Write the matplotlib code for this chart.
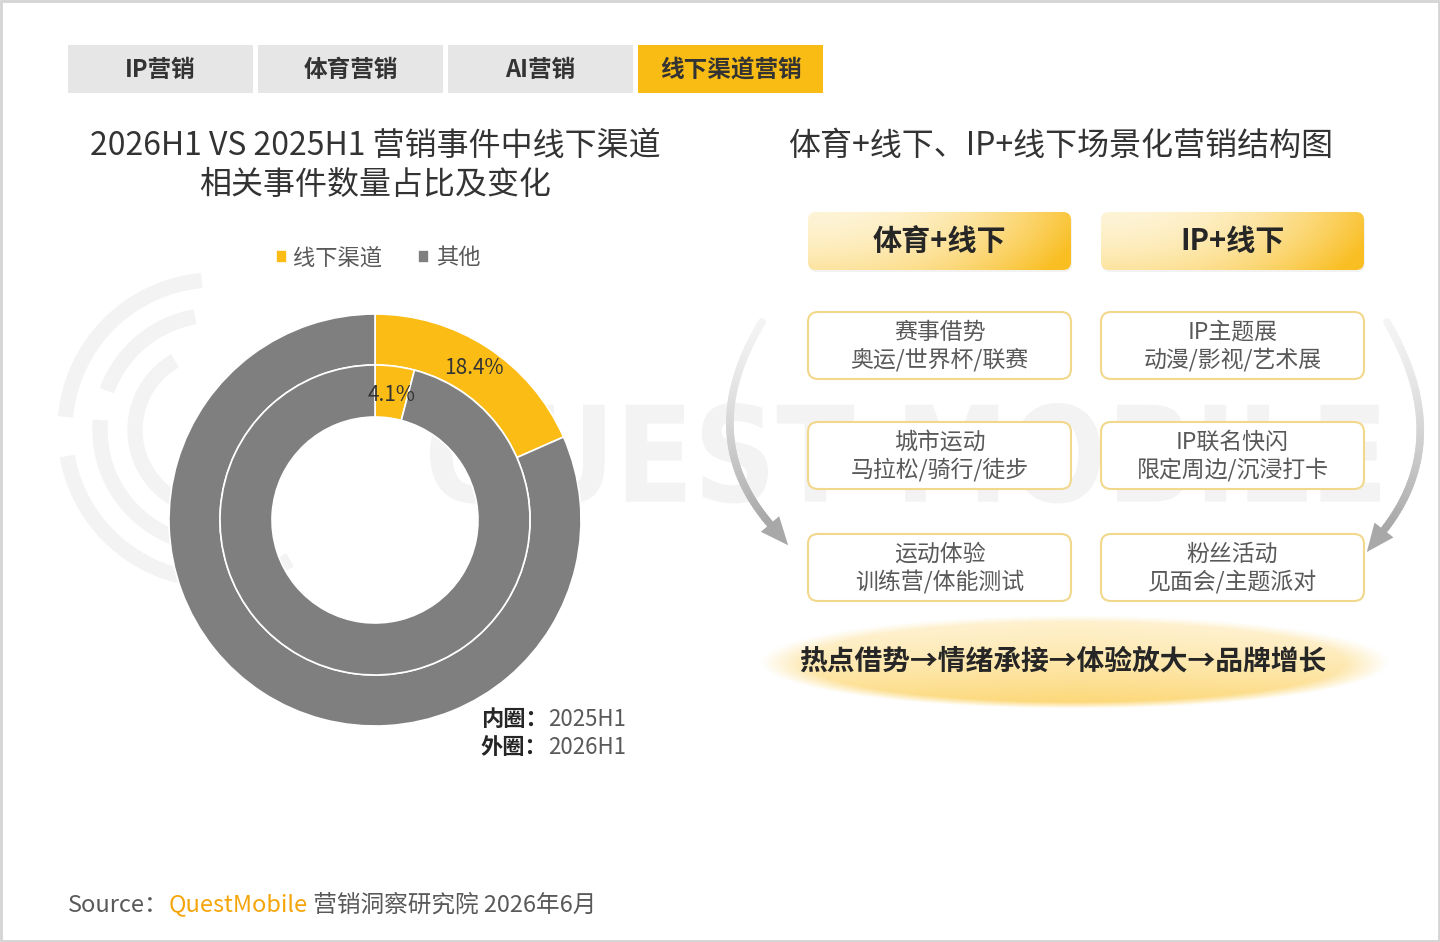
import numpy as np
import matplotlib
matplotlib.use('Agg')
import matplotlib.pyplot as plt
from matplotlib.patches import FancyBboxPatch, Rectangle, Polygon, Arc, PathPatch
from matplotlib.collections import LineCollection
from matplotlib.colors import to_rgb
from matplotlib.textpath import TextPath
from matplotlib.font_manager import FontProperties
from matplotlib.transforms import Affine2D

plt.rcParams['font.family'] = ['Noto Sans CJK SC', 'DejaVu Sans']

# ---- data ----
tabs = ['IP营销', '体育营销', 'AI营销', '线下渠道营销']
active_tab = 3

title_left = ['2026H1 VS 2025H1 营销事件中线下渠道', '相关事件数量占比及变化']
title_right = '体育+线下、IP+线下场景化营销结构图'

categories = ['线下渠道', '其他']
share_2026 = [18.4, 81.6]   # outer ring
share_2025 = [4.1, 95.9]    # inner ring
ring_colors = ['#FBBC15', '#7F7F7F']
ring_names = ['外圈', '内圈']
ring_periods = ['2026H1', '2025H1']

col_headers = ['体育+线下', 'IP+线下']
card_titles = [['赛事借势', '城市运动', '运动体验'],
               ['IP主题展', 'IP联名快闪', '粉丝活动']]
card_details = [['奥运/世界杯/联赛', '马拉松/骑行/徒步', '训练营/体能测试'],
                ['动漫/影视/艺术展', '限定周边/沉浸打卡', '见面会/主题派对']]
flow_steps = ['热点借势', '情绪承接', '体验放大', '品牌增长']

source_parts = ['Source：', 'QuestMobile', ' 营销洞察研究院 2026年6月']

W, H = 1440, 942
GRAY_TXT = '#595959'
DARK_TXT = '#333333'

fig = plt.figure(figsize=(W / 100, H / 100), dpi=100)
fig.patch.set_facecolor('white')

# full figure axes in pixel coords
bg = fig.add_axes([0, 0, 1, 1])
bg.set_xlim(0, W)
bg.set_ylim(H, 0)
bg.axis('off')


def reset_limits():
	bg.set_xlim(0, W)
	bg.set_ylim(H, 0)


def grad_box(x, y, w, h, c0, c1, r=8, z=2):
	box = FancyBboxPatch((x, y), w, h, boxstyle=f'round,pad=0,rounding_size={r}',
						 fc='none', ec='none', zorder=z)
	bg.add_patch(box)
	X, Y = np.meshgrid(np.linspace(0, 1, 200), np.linspace(0, 1, 60))
	t = np.clip(0.85 * X ** 2.2 + 0.3 * Y ** 1.5, 0, 1)
	img = (1 - t)[..., None] * np.array(to_rgb(c0)) + t[..., None] * np.array(to_rgb(c1))
	im = bg.imshow(img, extent=(x, x + w, y + h, y), aspect='auto', zorder=z,
				   interpolation='bilinear')
	im.set_clip_path(box)


def seq_text(x, y, parts, **kw):
	r = fig.canvas.get_renderer()
	for s, style in parts:
		t = bg.text(x, y, s, ha='left', va='center', **kw, **style)
		x += t.get_window_extent(renderer=r).width


def curved_arrow(p0, p1, p2, c_start='#f4f4f4', c_end='#a8a8a8'):
	p0, p1, p2 = map(np.array, (p0, p1, p2))
	tt = np.linspace(0, 1, 60)
	pts = ((1 - tt) ** 2)[:, None] * p0 + (2 * (1 - tt) * tt)[:, None] * p1 + (tt ** 2)[:, None] * p2
	segs = np.stack([pts[:-1], pts[1:]], axis=1)
	a = np.array(to_rgb(c_start))
	b = np.array(to_rgb(c_end))
	cols = [(1 - s) * a + s * b for s in np.linspace(0, 1, len(segs)) ** 1.3]
	bg.add_collection(LineCollection(segs, colors=cols, linewidths=5.5, capstyle='round', zorder=1))
	u = (p2 - p1) / np.linalg.norm(p2 - p1)
	n = np.array([-u[1], u[0]])
	tip = p2 + 28 * u
	bg.add_patch(Polygon([tip, p2 + 12 * n, p2 - 12 * n], closed=True, fc=c_end, ec='none', zorder=1))


# ---- watermark (logo graphic) ----
for rad, t1, t2 in [(150, 95, 175), (150, 190, 300), (115, 100, 160), (115, 175, 290), (80, 120, 260)]:
	bg.add_patch(Arc((215, 430), 2 * rad, 2 * rad, theta1=-t2, theta2=-t1,
					 color='#f3f3f3', lw=11, zorder=0))
wm = TextPath((0, 0), 'QUEST MOBILE', size=100, prop=FontProperties(family='DejaVu Sans', weight='bold'))
ext = wm.get_extents()
sx = 950 / ext.width
sy = 118 / ext.height
tr = Affine2D().translate(-ext.x0 - ext.width / 2, -ext.y0 - ext.height / 2).scale(sx, -sy).translate(905, 462)
bg.add_patch(PathPatch(tr.transform_path(wm), fc='#f3f3f3', ec='none', zorder=0))

# frame
bg.add_patch(Rectangle((1, 1), W - 2, H - 2, fc='none', ec='#d4d4d4', lw=2, zorder=5))

# ---- tabs ----
for i, name in enumerate(tabs):
	x0 = 68 + i * 190
	fc = '#F9BC15' if i == active_tab else '#E6E6E6'
	bg.add_patch(Rectangle((x0, 45), 185, 48, fc=fc, ec='none', zorder=2))
	bg.text(x0 + 92.5, 70, name, fontsize=17, fontweight='bold', color=DARK_TXT,
			ha='center', va='center', zorder=3)

# ---- titles ----
bg.text(375, 146, title_left[0], fontsize=23, color=DARK_TXT, ha='center', va='center')
bg.text(375, 185, title_left[1], fontsize=23, color=DARK_TXT, ha='center', va='center')
bg.text(1061, 146, title_right, fontsize=23, color=DARK_TXT, ha='center', va='center')

# ---- donut ----
cx, cy, R = 375, 520, 206
half = 214
ax = fig.add_axes([(cx - half) / W, (H - cy - half) / H, 2 * half / W, 2 * half / H])
outer, _ = ax.pie(share_2026, radius=1, colors=ring_colors, startangle=90, counterclock=False,
				  wedgeprops=dict(width=51 / R, edgecolor='white', linewidth=1.2))
inner, _ = ax.pie(share_2025, radius=155 / R, colors=ring_colors, startangle=90, counterclock=False,
				  wedgeprops=dict(width=52 / R, edgecolor='white', linewidth=1.2))
ax.set_xlim(-half / R, half / R)
ax.set_ylim(-half / R, half / R)
ax.set_aspect('equal')
ax.axis('off')

for vals, rr in [(share_2026, 0.88), (share_2025, 0.61)]:
	ang = np.deg2rad(90 - vals[0] / 100 * 360 / 2)
	ax.text(rr * np.cos(ang), rr * np.sin(ang), f'{vals[0]:.1f}%', fontsize=15,
			color=DARK_TXT, ha='center', va='center')

ax.legend(outer, categories, loc='center', bbox_to_anchor=(378 / W, 1 - 258 / H),
		  bbox_transform=fig.transFigure, ncol=2, frameon=False, fontsize=16,
		  labelcolor=GRAY_TXT, handlelength=0.5, handleheight=0.5, handletextpad=0.3,
		  columnspacing=1.6)

for k, (nm, per) in enumerate(zip(ring_names[::-1], ring_periods[::-1])):
	seq_text(481, 720 + k * 28, [(nm + '：', dict(fontweight='bold', color='#262626')),
								 (per, dict(color=GRAY_TXT))], fontsize=16)

# ---- right diagram ----
curved_arrow((762, 322), (694, 435), (770, 524))
curved_arrow((1387, 322), (1455, 439), (1384, 530))

col_x = [808, 1101]
box_w = 263
for j, head in enumerate(col_headers):
	x0 = col_x[j]
	bg.add_patch(FancyBboxPatch((x0 + 1, 214), box_w, 58, boxstyle='round,pad=0,rounding_size=8',
								fc='#000000', alpha=0.05, ec='none', zorder=1))
	grad_box(x0, 212, box_w, 58, '#FEF4D6', '#F9BE22')
	bg.text(x0 + box_w / 2, 241, head, fontsize=21, fontweight='bold', color='#262626',
			ha='center', va='center', zorder=3)
	for i, (t1, t2) in enumerate(zip(card_titles[j], card_details[j])):
		y0 = [312, 422, 534][i]
		bg.add_patch(FancyBboxPatch((x0, y0), box_w, 67, boxstyle='round,pad=0,rounding_size=10',
									fc='white', ec='#F2D88C', lw=1.5, zorder=2))
		bg.text(x0 + box_w / 2, y0 + 20, t1, fontsize=16.5, color=GRAY_TXT,
				ha='center', va='center', zorder=3)
		bg.text(x0 + box_w / 2, y0 + 48, t2, fontsize=16.5, color=GRAY_TXT,
				ha='center', va='center', zorder=3)

# flow ellipse with soft gradient
ex, ey, ew, eh = 1075, 662, 630, 94
X, Y = np.meshgrid(np.linspace(-1, 1, 400), np.linspace(-1, 1, 80))
rr = np.sqrt(X ** 2 + Y ** 2)
alpha = np.clip((1 - rr) * 7, 0, 1)
tcol = np.clip(0.1 + 0.75 * ((Y + 1) / 2) ** 1.4 + 0.1 * (1 - np.abs(X)), 0, 1)
c0 = np.array(to_rgb('#FFF8E6'))
c1 = np.array(to_rgb('#FCD46A'))
img = np.dstack([(1 - tcol)[..., None] * c0 + tcol[..., None] * c1, alpha])
bg.imshow(img, extent=(ex - ew / 2, ex + ew / 2, ey + eh / 2, ey - eh / 2), aspect='auto',
		  zorder=2, interpolation='bilinear')
bg.text(1063, 662, '→'.join(flow_steps), fontsize=20, fontweight='bold', color='#262626',
		ha='center', va='center', zorder=3)

# ---- source ----
seq_text(68, 905, [(source_parts[0], dict(color=GRAY_TXT)),
				   (source_parts[1], dict(color='#F5A50A')),
				   (source_parts[2], dict(color=GRAY_TXT))], fontsize=17)

reset_limits()
fig.savefig('out.png', dpi=100)
